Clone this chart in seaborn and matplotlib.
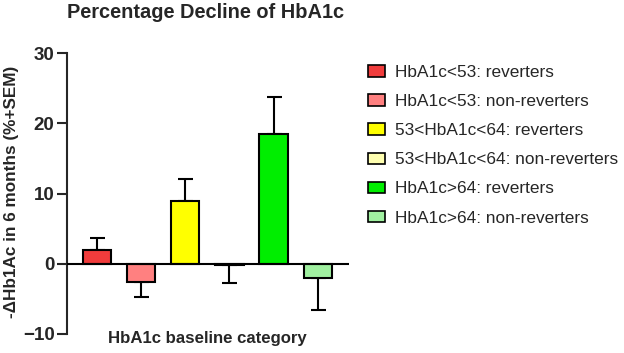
import matplotlib
matplotlib.use("Agg")
import matplotlib.pyplot as plt
import seaborn as sns
import pandas as pd
from matplotlib.patches import Patch

groups = ["HbA1c<53: reverters", "HbA1c<53: non-reverters",
          "53<HbA1c<64: reverters", "53<HbA1c<64: non-reverters",
          "HbA1c>64: reverters", "HbA1c>64: non-reverters"]
decline = [2.0, -2.6, 9.0, -0.2, 18.5, -2.0]
sem = [1.6, 2.1, 3.0, 2.6, 5.3, 4.6]
colors = ["#F03C3C", "#FF8080", "#FFFF00", "#FFFFB0", "#00EE00", "#A0F0A0"]

sns.set_style("ticks")
plt.rcParams['font.family'] = ['Liberation Sans', 'DejaVu Sans']

df = pd.DataFrame({"group": groups, "decline": decline})

fig = plt.figure(figsize=(6.24, 3.53), dpi=100)
ax = fig.add_axes([67 / 624, 1 - 334 / 353, (349 - 67) / 624, (334 - 53) / 353])

sns.barplot(data=df, x="group", y="decline", hue="group", palette=colors,
            saturation=1, edgecolor="black", linewidth=1.5, width=0.64,
            legend=False, ax=ax, zorder=2)

# error bars only away from zero (+SEM)
lower = [s if v < 0 else 0 for v, s in zip(decline, sem)]
upper = [s if v >= 0 else 0 for v, s in zip(decline, sem)]
ax.errorbar(range(len(groups)), decline, yerr=[lower, upper], fmt="none",
            ecolor="black", elinewidth=1.5, capsize=5.4, capthick=1.5, zorder=1)

ax.axhline(0, color="black", lw=1.5, zorder=3)
ax.set_xlim(-0.68, 5.71)
ax.set_ylim(-10, 30)
ax.set_yticks([-10, 0, 10, 20, 30])
ax.set_xticks([])
for lab in ax.get_yticklabels():
    lab.set_fontweight("bold")
ax.tick_params(axis="y", labelsize=13.5, width=1.5, length=7, pad=2)
sns.despine(ax=ax, bottom=True)
ax.spines["left"].set_linewidth(1.5)
ax.set_xlabel("")
ax.set_ylabel("")
fig.text(12 / 624, 1 - 192 / 353, "-ΔHb1Ac in 6 months (%+SEM)", rotation=90,
         ha="center", va="center", fontsize=12.3, fontweight="bold")
ax.text((207 - 67) / 282, (334 - 339) / 281, "HbA1c baseline category",
        transform=ax.transAxes, ha="center", va="center", fontsize=12.1,
        fontweight="bold")

fig.text(206 / 624, 1 - 13 / 353, "Percentage Decline of HbA1c",
         ha="center", va="center", fontsize=14.4, fontweight="bold")

handles = [Patch(facecolor=c, edgecolor="black", linewidth=1.2) for c in colors]
fig.legend(handles, groups, loc="upper left", bbox_to_anchor=(368 / 624, 1 - 65 / 353),
           frameon=False, fontsize=12.4, handlelength=1.0, handleheight=0.65,
           handletextpad=0.58, labelspacing=0.82, borderaxespad=0, borderpad=0)

fig.savefig("out.png", dpi=100)
